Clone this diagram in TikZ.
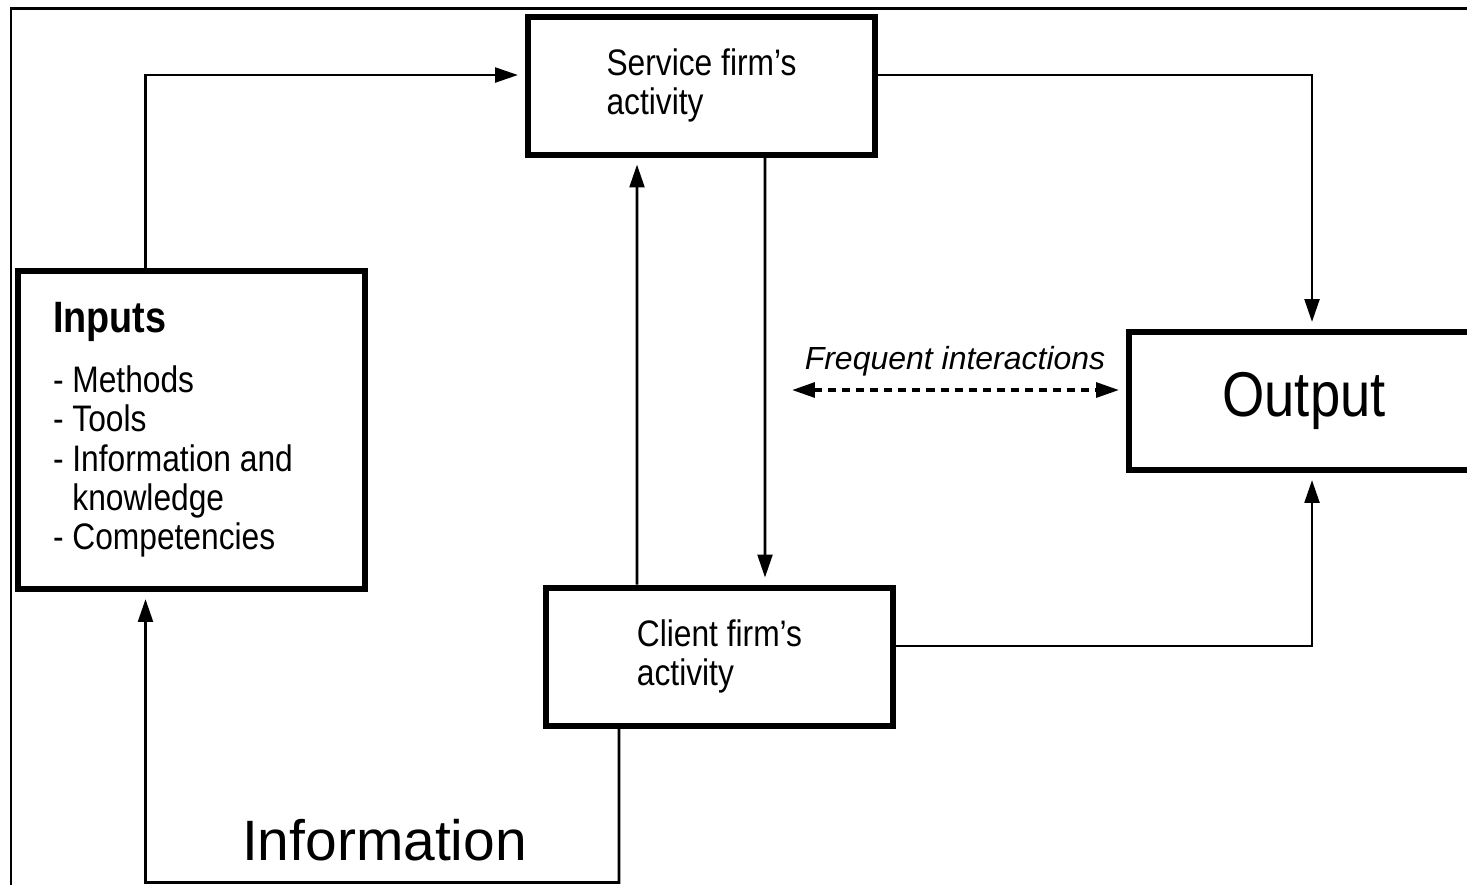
\documentclass[tikz,border=0pt]{standalone}
\usepackage{fontspec}
\setmainfont{Liberation Sans}[FakeStretch=0.86]
\newfontfamily\widefont{Liberation Sans}
\usetikzlibrary{arrows.meta}

\begin{document}
\begin{tikzpicture}[
  boxnode/.style={rectangle, draw=black, line width=1.7pt, minimum width=3.47cm, minimum height=1.38cm, align=flush left, font=\fontsize{10.5}{11.2}\selectfont},
  conn/.style={line width=0.8pt, -{Triangle[length=6.5pt,width=4.2pt]}, shorten >=2pt},
  dashconn/.style={line width=1pt, dash pattern=on 2.3pt off 1.7pt, {Triangle[length=6.5pt,width=4.2pt]}-{Triangle[length=6.5pt,width=4.2pt]}, shorten >=2pt},
  ]
\useasboundingbox (0,0) rectangle (14.67,-8.85);
% frame
\draw[line width=0.6pt] (0.11,-8.85) |- (14.67,-0.085);
% nodes
\node[boxnode] (service) at (7.015,-0.855) {Service firm's\\activity};
\node[boxnode] (client) at (7.195,-6.565) {Client firm's\\activity};
\node[boxnode, minimum height=3.18cm, text width=2.77cm, inner xsep=0.35cm] (inputs) at (1.915,-4.30)
  {{\bfseries\fontsize{12.5}{14}\selectfont Inputs}\\[5.7pt]
   - Methods\\
   - Tools\\
   - Information and\\
   \hphantom{- }knowledge\\
   - Competencies};
\node[boxnode, minimum width=3.5cm, font=\fontsize{18}{20}\selectfont] (output) at (13.04,-4.01) {Output};
\node[font=\widefont\fontsize{16.2}{18}\selectfont, anchor=base] (info) at (3.845,-8.60) {Information};
\coordinate (freqleft) at (7.92,-3.90);
\coordinate (loopbase) at (1.455,-8.825);
% edges
\draw[conn] ([xshift=-0.46cm]inputs.north) |- ([yshift=0.105cm]service.west);
\draw[conn] ([yshift=0.105cm]service.east) -| ([xshift=0.08cm]output.north);
\draw[conn] ([xshift=0.635cm]service.south) -- ([xshift=0.455cm]client.north);
\draw[conn] ([xshift=-0.825cm]client.north) -- ([xshift=-0.645cm]service.south);
\draw[conn] ([yshift=0.105cm]client.east) -| ([xshift=0.08cm]output.south);
\draw[conn] ([xshift=-1.005cm]client.south) |- (loopbase) -- ([xshift=-0.46cm]inputs.south);
\draw[dashconn] (freqleft) -- (output.west |- freqleft)
  node[midway, xshift=-0.04cm, above=0.12cm, inner sep=0pt, font=\widefont\itshape\fontsize{9.1}{11}\selectfont] (freq) {Frequent interactions};
\end{tikzpicture}
\end{document}
